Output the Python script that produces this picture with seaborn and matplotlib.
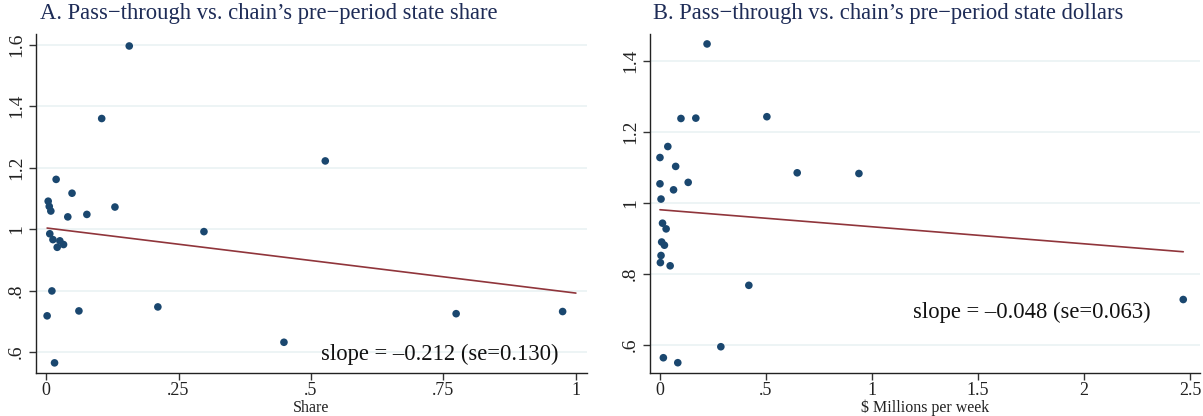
import numpy as np
import pandas as pd
import matplotlib
matplotlib.use("Agg")
import matplotlib.pyplot as plt
import seaborn as sns

# ---- Data: Panel A (share) ----
share_x = [0.002, 0.004, 0.006, 0.009, 0.007, 0.013, 0.011, 0.016, 0.019, 0.021,
           0.026, 0.033, 0.041, 0.049, 0.062, 0.077, 0.105, 0.130, 0.157, 0.211,
           0.298, 0.449, 0.527, 0.774, 0.975]
share_y = [0.718, 1.091, 1.074, 1.059, 0.985, 0.966, 0.799, 0.565, 1.162, 0.941,
           0.962, 0.950, 1.040, 1.117, 0.734, 1.048, 1.360, 1.072, 1.596, 0.747,
           0.992, 0.632, 1.222, 0.725, 0.732]
share_fit_x = [0.002, 1.0]
share_intercept = 1.004
share_slope = -0.212
share_se = 0.130

# ---- Data: Panel B (dollars, $ millions per week) ----
dollar_x = [0.001, 0.001, 0.006, 0.013, 0.030, 0.009, 0.022, 0.006, 0.003, 0.049,
            0.038, 0.075, 0.065, 0.100, 0.134, 0.170, 0.223, 0.017, 0.085, 0.288,
            0.420, 0.505, 0.648, 0.939, 2.468]
dollar_y = [1.128, 1.054, 1.011, 0.943, 0.927, 0.890, 0.881, 0.852, 0.832, 0.823,
            1.159, 1.103, 1.037, 1.238, 1.058, 1.239, 1.448, 0.564, 0.550, 0.595,
            0.768, 1.243, 1.085, 1.083, 0.728]
dollar_fit_x = [0.001, 2.468]
dollar_intercept = 0.981
dollar_slope = -0.048
dollar_se = 0.063

titles = ["A. Pass\u2212through vs. chain\u2019s pre\u2212period state share",
          "B. Pass\u2212through vs. chain\u2019s pre\u2212period state dollars"]
xlabels = ["Share", "$ Millions per week"]

a_xticks = [0, 0.25, 0.5, 0.75, 1.0]
a_xticklabels = ["0", ".25", ".5", ".75", "1"]
a_yticks = [0.6, 0.8, 1.0, 1.2, 1.4, 1.6]
a_yticklabels = [".6", ".8", "1", "1.2", "1.4", "1.6"]
b_xticks = [0, 0.5, 1.0, 1.5, 2.0, 2.5]
b_xticklabels = ["0", ".5", "1", "1.5", "2", "2.5"]
b_yticks = [0.6, 0.8, 1.0, 1.2, 1.4]
b_yticklabels = [".6", ".8", "1", "1.2", "1.4"]

sns.set_theme(style="white")
plt.rcParams['font.family'] = ['Liberation Serif', 'DejaVu Serif']
plt.rcParams['mathtext.default'] = 'regular'

NAVY = "#1a476f"
MAROON = "#90353b"
GRID = "#eaf2f3"
TITLE_C = "#1e2c57"

fig = plt.figure(figsize=(12.03, 4.16), dpi=100)
W, H = 1203, 416
axA = fig.add_axes([36 / W, (H - 373) / H, (587 - 36) / W, (373 - 34) / H])
axB = fig.add_axes([650 / W, (H - 373) / H, (1200 - 650) / W, (373 - 34) / H])

panels = [
    (axA, share_x, share_y, share_fit_x, share_intercept, share_slope, share_se,
     a_xticks, a_xticklabels, a_yticks, a_yticklabels, (-0.019, 1.021), (0.532, 1.635),
     (0.732, 0.056)),
    (axB, dollar_x, dollar_y, dollar_fit_x, dollar_intercept, dollar_slope, dollar_se,
     b_xticks, b_xticklabels, b_yticks, b_yticklabels, (-0.046, 2.547), (0.521, 1.476),
     (0.695, 0.18)),
]

for i, (ax, xs, ys, fx, b0, b1, se, xt, xtl, yt, ytl, xlim, ylim, tpos) in enumerate(panels):
    df = pd.DataFrame({"x": xs, "y": ys})
    fitx = np.array(fx)
    fit = pd.DataFrame({"x": fitx, "y": b0 + b1 * fitx})
    for yv in yt:
        ax.axhline(yv, color=GRID, lw=1.2, zorder=0)
    sns.lineplot(data=fit, x="x", y="y", ax=ax, color=MAROON, lw=1.2, zorder=2)
    sns.scatterplot(data=df, x="x", y="y", ax=ax, color=NAVY, s=30, edgecolor="none",
                    zorder=3)
    ax.set_xlim(*xlim)
    ax.set_ylim(*ylim)
    ax.set_xticks(xt)
    ax.set_xticklabels(xtl, fontsize=13)
    ax.set_yticks(yt)
    ax.set_yticklabels(ytl, fontsize=14, rotation=90, va="center")
    ax.tick_params(axis="y", direction="out", length=5, width=1, color="#333333",
                   labelcolor="#222222", pad=3, left=True)
    ax.tick_params(axis="x", direction="out", length=5, width=1, color="#333333",
                   labelcolor="#222222", pad=1.5, bottom=True)
    ax.set_xlabel(xlabels[i], fontsize=11.5, labelpad=0.5, color="#222222")
    ax.set_ylabel("")
    for s in ["top", "right"]:
        ax.spines[s].set_visible(False)
    for s in ["left", "bottom"]:
        ax.spines[s].set_color("#222222")
        ax.spines[s].set_linewidth(1.0)
    ax.text(tpos[0], tpos[1], f"slope = \u2013{abs(b1):.3f} (se={se:.3f})",
            transform=ax.transAxes, ha="center", va="center", fontsize=16.3,
            color="#111111")
    ax.set_title("")

fig.text(40 / W, 1 - 3 / H, titles[0], ha="left", va="top", fontsize=16.3, color=TITLE_C)
fig.text(653 / W, 1 - 3 / H, titles[1], ha="left", va="top", fontsize=16.3, color=TITLE_C)

fig.savefig("out.png", dpi=100, facecolor="white")
